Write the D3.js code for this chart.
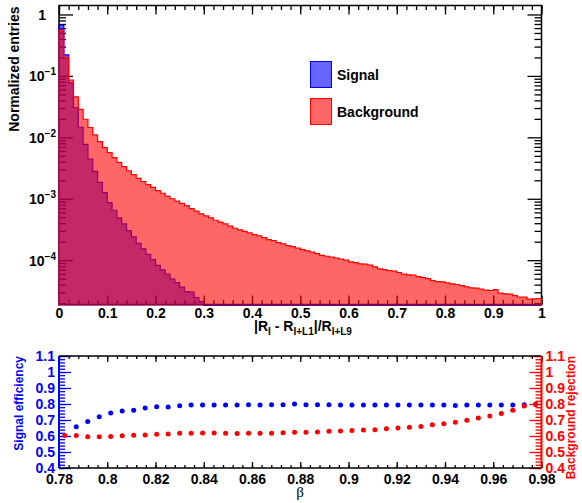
<!DOCTYPE html>
<html><head><meta charset="utf-8">
<script src="https://cdn.jsdelivr.net/npm/d3@7"></script>
<style>
body{margin:0;background:#fff}
text{font-family:"Liberation Sans",Arial,Helvetica,sans-serif;font-weight:bold}
</style>
</head><body>
<svg id="c" width="582" height="503"></svg>
<script>
// ---------------- data ----------------
const binEdges = d3.range(101).map(i => i / 100);
const signal = [
  0.670, 0.220, 0.0773, 0.0303, 0.0146, 0.00769, 0.00444, 0.00280, 0.00185, 0.00126,
  0.000865, 0.000650, 0.000488, 0.000389, 0.000303, 0.000240, 0.000188, 0.000153, 0.000124, 0.000102,
  0.0000822, 0.0000695, 0.0000596, 0.0000491, 0.0000433, 0.0000364, 0.0000309, 0.0000302, 0.0000247, 0.0000212,
  0, 0, 0, 0, 0, 0, 0, 0, 0, 0,
  0, 0, 0, 0, 0, 0, 0, 0, 0, 0,
  0, 0, 0, 0, 0, 0, 0, 0, 0, 0,
  0, 0, 0, 0, 0, 0, 0, 0, 0, 0,
  0, 0, 0, 0, 0, 0, 0, 0, 0, 0,
  0, 0, 0, 0, 0, 0, 0, 0, 0, 0,
  0, 0, 0, 0, 0, 0, 0, 0, 0, 0
];
const background = [
  0.562, 0.200, 0.0851, 0.0457, 0.0285, 0.0197, 0.01445, 0.01096, 0.00851, 0.00678,
  0.00562, 0.00468, 0.00391, 0.00333, 0.00286, 0.00248, 0.00215, 0.00191, 0.00170, 0.00153,
  0.00136, 0.00123, 0.00110, 0.00100, 0.000912, 0.000841, 0.000771, 0.000692, 0.000631, 0.000569,
  0.000525, 0.000490, 0.000447, 0.000417, 0.000389, 0.000358, 0.000331, 0.000311, 0.000295, 0.000278,
  0.000261, 0.000248, 0.000233, 0.000216, 0.000208, 0.000193, 0.000184, 0.000173, 0.000166, 0.000157,
  0.000149, 0.000142, 0.000135, 0.000128, 0.000120, 0.000116, 0.000112, 0.000108, 0.000104, 0.000100,
  0.0000938, 0.0000912, 0.0000871, 0.0000861, 0.0000830, 0.0000778, 0.0000723, 0.0000703, 0.0000678, 0.0000662,
  0.0000630, 0.0000592, 0.0000577, 0.0000570, 0.0000542, 0.0000521, 0.0000502, 0.0000466, 0.0000449, 0.0000444,
  0.0000428, 0.0000412, 0.0000402, 0.0000386, 0.0000368, 0.0000355, 0.0000351, 0.0000337, 0.0000325, 0.0000321,
  0.0000333, 0.0000290, 0.0000283, 0.0000280, 0.0000265, 0.0000250, 0.0000250, 0.0000232, 0.0000235, 0.0000238
];
const betaValues = [
  0.78238, 0.78714, 0.79190, 0.79667, 0.80143, 0.80619, 0.81095, 0.81571, 0.82048, 0.82524,
  0.83000, 0.83476, 0.83952, 0.84429, 0.84905, 0.85381, 0.85857, 0.86333, 0.86810, 0.87286,
  0.87762, 0.88238, 0.88714, 0.89190, 0.89667, 0.90143, 0.90619, 0.91095, 0.91571, 0.92048,
  0.92524, 0.93000, 0.93476, 0.93952, 0.94429, 0.94905, 0.95381, 0.95857, 0.96333, 0.96810,
  0.97286, 0.97762
];
const sigEff = [
  null, 0.658, 0.690, 0.721, 0.743, 0.757, 0.761, 0.775, 0.783, 0.781,
  0.789, 0.793, 0.793, 0.794, 0.794, 0.794, 0.796, 0.794, 0.796, 0.796,
  0.800, 0.796, 0.796, 0.796, 0.794, 0.794, 0.794, 0.794, 0.793, 0.793,
  0.793, 0.793, 0.793, 0.793, 0.791, 0.793, 0.793, 0.793, 0.793, 0.793,
  0.796, 0.798
];
const bkgRej = [
  0.603, 0.603, 0.595, 0.595, 0.597, 0.601, 0.605, 0.607, 0.611, 0.613,
  0.617, 0.617, 0.619, 0.619, 0.617, 0.615, 0.617, 0.617, 0.617, 0.621,
  0.623, 0.623, 0.625, 0.629, 0.631, 0.635, 0.637, 0.639, 0.645, 0.650,
  0.654, 0.660, 0.670, 0.676, 0.686, 0.698, 0.712, 0.725, 0.741, 0.761,
  0.787, 0.798
];
const histXTicks = [0, 0.1, 0.2, 0.3, 0.4, 0.5, 0.6, 0.7, 0.8, 0.9, 1];
const histYTicks = [1e-4, 1e-3, 1e-2, 1e-1, 1];
const histYExp = [-4, -3, -2, -1, 0];
const effXTicks = [0.78, 0.80, 0.82, 0.84, 0.86, 0.88, 0.90, 0.92, 0.94, 0.96, 0.98];
const effYTicks = [0.4, 0.5, 0.6, 0.7, 0.8, 0.9, 1.0, 1.1];
const legendLabels = ["Signal", "Background"];

// ---------------- layout ----------------
const svg = d3.select('#c');
const P1 = {l: 59, r: 541.5, t: 5.5, b: 304.5};
const P2 = {l: 59, r: 541.5, t: 356, b: 468};
const fmt = v => String(+v.toFixed(2));

const x = d3.scaleLinear().domain([0, 1]).range([P1.l, P1.r]);
const y = d3.scaleLog().domain([1.9e-5, 1.4]).range([P1.b, P1.t]);

function styleAxis(g, color, fs) {
  g.select('.domain').remove();
  g.selectAll('line').attr('stroke', color).attr('stroke-width', 1.3);
  g.selectAll('text').attr('fill', color).style('font-size', fs + 'px')
    .style('font-family', '"Liberation Sans",Arial,sans-serif').style('font-weight', 'bold');
}

// ----- top panel frame -----
const g1 = svg.append('g');
g1.append('rect').attr('x', P1.l).attr('y', P1.t).attr('width', P1.r - P1.l).attr('height', P1.b - P1.t)
  .attr('fill', 'none').attr('stroke', '#000').attr('stroke-width', 1.5);

const minorX1 = d3.range(0, 1.0001, 0.02);
const minorY1 = [];
for (let n = -5; n <= 0; n++) for (let k = 2; k <= 9; k++) {
  const v = k * Math.pow(10, n);
  if (v > y.domain()[0] && v < y.domain()[1]) minorY1.push(v);
}
// x ticks
g1.append('g').attr('transform', `translate(0,${P1.b})`)
  .call(d3.axisBottom(x).tickValues(histXTicks).tickSize(-9).tickPadding(4).tickFormat(fmt))
  .call(g => styleAxis(g, '#000', 14));
g1.append('g').attr('transform', `translate(0,${P1.b})`)
  .call(d3.axisBottom(x).tickValues(minorX1).tickSize(-4.5).tickFormat(''))
  .call(g => styleAxis(g, '#000', 14));
g1.append('g').attr('transform', `translate(0,${P1.t})`)
  .call(d3.axisTop(x).tickValues(histXTicks).tickSize(-9).tickFormat(''))
  .call(g => styleAxis(g, '#000', 14));
g1.append('g').attr('transform', `translate(0,${P1.t})`)
  .call(d3.axisTop(x).tickValues(minorX1).tickSize(-4.5).tickFormat(''))
  .call(g => styleAxis(g, '#000', 14));
// y ticks
g1.append('g').attr('transform', `translate(${P1.l},0)`)
  .call(d3.axisLeft(y).tickValues(histYTicks).tickSize(-14).tickFormat(''))
  .call(g => styleAxis(g, '#000', 14));
g1.append('g').attr('transform', `translate(${P1.l},0)`)
  .call(d3.axisLeft(y).tickValues(minorY1).tickSize(-7).tickFormat(''))
  .call(g => styleAxis(g, '#000', 14));
g1.append('g').attr('transform', `translate(${P1.r},0)`)
  .call(d3.axisRight(y).tickValues(histYTicks).tickSize(-14).tickFormat(''))
  .call(g => styleAxis(g, '#000', 14));
g1.append('g').attr('transform', `translate(${P1.r},0)`)
  .call(d3.axisRight(y).tickValues(minorY1).tickSize(-7).tickFormat(''))
  .call(g => styleAxis(g, '#000', 14));

// y tick labels with superscripts
histYTicks.forEach((v, i) => {
  const e = histYExp[i];
  const t = g1.append('text').attr('text-anchor', 'end').attr('y', y(v) + 5.5)
    .style('font-size', '14px').attr('fill', '#000');
  if (e === 0) { t.attr('x', 46).text('1'); }
  else {
    t.attr('x', 56);
    t.append('tspan').text('10');
    t.append('tspan').attr('dy', -6).style('font-size', '10px').text('\u2212' + (-e));
  }
});

// ----- histograms -----
svg.append('clipPath').attr('id', 'clip1').append('rect')
  .attr('x', P1.l - 1).attr('y', P1.t).attr('width', P1.r - P1.l + 2).attr('height', P1.b - P1.t + 1.5);

function histPoints(vals) {
  const base = P1.b + 1;
  const pts = [[x(binEdges[0]), base]];
  vals.forEach((v, i) => {
    const yy = v > 0 ? Math.max(P1.t, Math.min(base, y(v))) : base;
    pts.push([x(binEdges[i]), yy], [x(binEdges[i + 1]), yy]);
  });
  pts.push([x(binEdges[binEdges.length - 1]), base]);
  return pts;
}
const hg = svg.append('g').attr('clip-path', 'url(#clip1)');
const line = d3.line();
[[signal, 'rgba(0,0,255,0.6)', '#0000ff'], [background, 'rgba(255,0,0,0.6)', '#ff0000']].forEach(([vals, fill, stroke]) => {
  const pts = histPoints(vals);
  hg.append('path').attr('d', line(pts) + 'Z').attr('fill', fill).attr('stroke', 'none');
  hg.append('path').attr('d', line(pts)).attr('fill', 'none').attr('stroke', stroke).attr('stroke-width', 1.2);
});

// legend
const legFill = ['rgba(0,0,255,0.6)', 'rgba(255,0,0,0.6)'];
const legStroke = ['#0000ff', '#ff0000'];
legendLabels.forEach((lab, i) => {
  const y0 = 61.5 + i * 37;
  svg.append('rect').attr('x', 310.5).attr('y', y0).attr('width', 21).attr('height', 26)
    .attr('fill', legFill[i]).attr('stroke', legStroke[i]).attr('stroke-width', 1);
  svg.append('text').attr('x', 337).attr('y', y0 + 18).style('font-size', '14px').text(lab);
});

// axis titles (top panel)
svg.append('text').attr('transform', `translate(18.5,6.5) rotate(-90)`).attr('text-anchor', 'end')
  .style('font-size', '14px').text('Normalized entries');
const xt = svg.append('text').attr('x', 303).attr('y', 331).attr('text-anchor', 'middle').style('font-size', '14px');
xt.append('tspan').text('|R');
xt.append('tspan').attr('dy', 4).style('font-size', '10px').text('I');
xt.append('tspan').attr('dy', -4).text(' - R');
xt.append('tspan').attr('dy', 4).style('font-size', '10px').text('I+L1');
xt.append('tspan').attr('dy', -4).text('|/R');
xt.append('tspan').attr('dy', 4).style('font-size', '10px').text('I+L9');

// ----- bottom panel -----
const x2 = d3.scaleLinear().domain([0.78, 0.98]).range([P2.l, P2.r]);
const y2 = d3.scaleLinear().domain([0.4, 1.1]).range([P2.b, P2.t]);
const g2 = svg.append('g');
const minorX2 = d3.range(0, 51).map(i => 0.78 + i * 0.004);
const minorY2 = d3.range(0, 36).map(i => 0.4 + i * 0.02);

g2.append('g').attr('transform', `translate(0,${P2.b})`)
  .call(d3.axisBottom(x2).tickValues(effXTicks).tickSize(-6).tickPadding(6).tickFormat(fmt))
  .call(g => styleAxis(g, '#000', 14));
g2.append('g').attr('transform', `translate(0,${P2.b})`)
  .call(d3.axisBottom(x2).tickValues(minorX2).tickSize(-3).tickFormat(''))
  .call(g => styleAxis(g, '#000', 14));
g2.append('g').attr('transform', `translate(0,${P2.t})`)
  .call(d3.axisTop(x2).tickValues(effXTicks).tickSize(-6).tickFormat(''))
  .call(g => styleAxis(g, '#000', 14));
g2.append('g').attr('transform', `translate(0,${P2.t})`)
  .call(d3.axisTop(x2).tickValues(minorX2).tickSize(-3).tickFormat(''))
  .call(g => styleAxis(g, '#000', 14));
g2.append('g').attr('transform', `translate(${P2.l},0)`)
  .call(d3.axisLeft(y2).tickValues(effYTicks).tickSize(-12).tickPadding(4).tickFormat(fmt))
  .call(g => styleAxis(g, '#0000ff', 14));
g2.append('g').attr('transform', `translate(${P2.l},0)`)
  .call(d3.axisLeft(y2).tickValues(minorY2).tickSize(-6).tickFormat(''))
  .call(g => styleAxis(g, '#0000ff', 14));
g2.append('g').attr('transform', `translate(${P2.r},0)`)
  .call(d3.axisRight(y2).tickValues(effYTicks).tickSize(-12).tickPadding(4).tickFormat(fmt))
  .call(g => styleAxis(g, '#ff0000', 14));
g2.append('g').attr('transform', `translate(${P2.r},0)`)
  .call(d3.axisRight(y2).tickValues(minorY2).tickSize(-6).tickFormat(''))
  .call(g => styleAxis(g, '#ff0000', 14));

g2.append('line').attr('x1', P2.l).attr('x2', P2.r).attr('y1', P2.t).attr('y2', P2.t).attr('stroke', '#000').attr('stroke-width', 1.5);
g2.append('line').attr('x1', P2.l).attr('x2', P2.r).attr('y1', P2.b).attr('y2', P2.b).attr('stroke', '#000').attr('stroke-width', 1.5);
g2.append('line').attr('x1', P2.l).attr('x2', P2.l).attr('y1', P2.t).attr('y2', P2.b).attr('stroke', '#0000ff').attr('stroke-width', 2);
g2.append('line').attr('x1', P2.r).attr('x2', P2.r).attr('y1', P2.t).attr('y2', P2.b).attr('stroke', '#ff0000').attr('stroke-width', 2);

g2.selectAll('circle.sig').data(betaValues.map((b, i) => [b, sigEff[i]]).filter(d => d[1] !== null))
  .enter().append('circle').attr('class', 'sig')
  .attr('cx', d => x2(d[0])).attr('cy', d => y2(d[1])).attr('r', 2.5).attr('fill', '#0000ff');
g2.selectAll('circle.bkg').data(betaValues.map((b, i) => [b, bkgRej[i]]))
  .enter().append('circle').attr('class', 'bkg')
  .attr('cx', d => x2(d[0])).attr('cy', d => y2(d[1])).attr('r', 2.5).attr('fill', '#ff0000');

svg.append('text').attr('transform', `translate(23,356) rotate(-90)`).attr('text-anchor', 'end')
  .style('font-size', '12px').attr('fill', '#0000ff').text('Signal efficiency');
svg.append('text').attr('transform', `translate(575,356) rotate(-90)`).attr('text-anchor', 'end')
  .style('font-size', '12px').attr('fill', '#ff0000').text('Background rejection');
svg.append('text').attr('x', 300).attr('y', 497).attr('text-anchor', 'middle')
  .style('font-family', '"Liberation Serif","DejaVu Serif",serif').style('font-weight', 'normal')
  .style('font-size', '15px').text('\u03b2');
</script>
</body></html>
